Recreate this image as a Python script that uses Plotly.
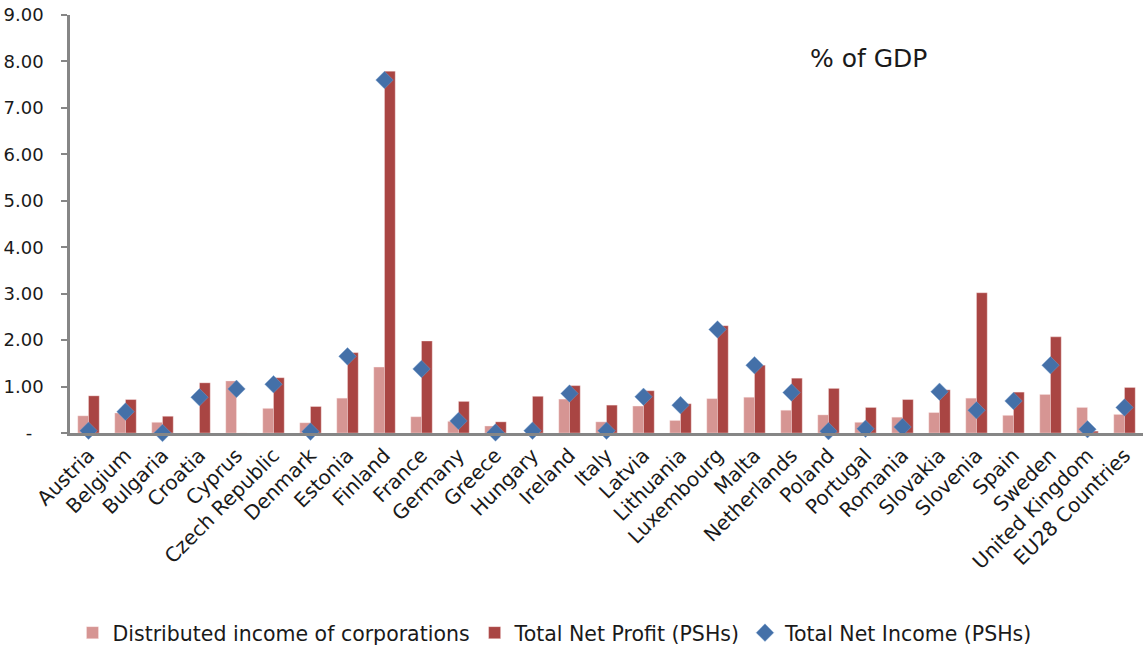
import plotly.graph_objects as go

countries = [
    "Austria", "Belgium", "Bulgaria", "Croatia", "Cyprus", "Czech Republic",
    "Denmark", "Estonia", "Finland", "France", "Germany", "Greece", "Hungary",
    "Ireland", "Italy", "Latvia", "Lithuania", "Luxembourg", "Malta",
    "Netherlands", "Poland", "Portugal", "Romania", "Slovakia", "Slovenia",
    "Spain", "Sweden", "United Kingdom", "EU28 Countries",
]

distributed_income = [
    0.37, 0.43, 0.23, 0.00, 1.12, 0.53, 0.22, 0.75, 1.42, 0.35, 0.25, 0.15,
    0.00, 0.73, 0.24, 0.58, 0.27, 0.74, 0.77, 0.49, 0.39, 0.23, 0.34, 0.44,
    0.75, 0.38, 0.83, 0.55, 0.40,
]

total_net_profit = [
    0.80, 0.72, 0.36, 1.08, 0.00, 1.19, 0.57, 1.73, 7.79, 1.98, 0.68, 0.24,
    0.79, 1.02, 0.60, 0.91, 0.63, 2.31, 1.46, 1.18, 0.96, 0.55, 0.72, 0.93,
    3.02, 0.88, 2.07, 0.04, 0.98,
]

total_net_income = [
    0.05, 0.46, 0.00, 0.77, 0.95, 1.05, 0.03, 1.65, 7.60, 1.38, 0.26, 0.01,
    0.05, 0.85, 0.05, 0.78, 0.60, 2.23, 1.46, 0.87, 0.04, 0.09, 0.13, 0.89,
    0.49, 0.69, 1.46, 0.08, 0.55,
]

y_tick_values = [0, 1, 2, 3, 4, 5, 6, 7, 8, 9]
y_tick_labels = ["-\u00a0\u00a0", "1.00", "2.00", "3.00", "4.00",
                 "5.00", "6.00", "7.00", "8.00", "9.00"]

FONT = "DejaVu Sans"
TEXT = "#1a1a1a"
AXIS = "#868686"

fig = go.Figure()
fig.add_trace(go.Bar(
    x=countries, y=distributed_income,
    name="Distributed income of corporations",
    marker=dict(color="#D69593", line=dict(color="rgba(255,235,235,0.6)", width=0.6)),
))
fig.add_trace(go.Bar(
    x=countries, y=total_net_profit,
    name="Total Net Profit (PSHs)",
    marker=dict(color="#A94543", line=dict(color="rgba(255,235,235,0.6)", width=0.6)),
))
fig.add_trace(go.Scatter(
    x=countries, y=total_net_income,
    name="Total Net Income (PSHs)",
    mode="markers",
    marker=dict(symbol="diamond", size=13.5, color="#4470A8",
                line=dict(color="rgba(120,160,210,0.7)", width=0.6)),
    cliponaxis=False,
))

fig.add_annotation(
    text="% of GDP", x=0.688, y=0.896, xref="paper", yref="paper",
    xanchor="left", yanchor="middle", showarrow=False,
    font=dict(family=FONT, size=25, color=TEXT),
)

fig.update_layout(
    width=1143, height=648,
    margin=dict(l=70, r=0, t=15, b=215, autoexpand=False),
    paper_bgcolor="white", plot_bgcolor="white",
    barmode="group", bargap=0.42, bargroupgap=0,
    font=dict(family=FONT, color=TEXT),
    showlegend=True,
    legend=dict(
        orientation="h", x=0.452, xanchor="center", y=-0.478, yanchor="middle",
        font=dict(family=FONT, size=20.5, color=TEXT),
        itemwidth=30, tracegroupgap=0,
    ),
    xaxis=dict(
        range=[-0.5, len(countries) - 0.5],
        showline=True, linecolor=AXIS, linewidth=2.5,
        ticks="", tickangle=-45, automargin=False,
        tickfont=dict(family=FONT, size=20, color=TEXT),
        showgrid=False, zeroline=False,
    ),
    yaxis=dict(
        range=[0, 9], tickvals=y_tick_values, ticktext=y_tick_labels,
        showline=True, linecolor=AXIS, linewidth=2.5, automargin=False,
        ticks="outside", ticklen=6, tickcolor=AXIS, tickwidth=1.5,
        tickfont=dict(family=FONT, size=18, color=TEXT),
        ticklabelstandoff=14,
        showgrid=False, zeroline=False,
    ),
)

fig.write_html("out.html")
